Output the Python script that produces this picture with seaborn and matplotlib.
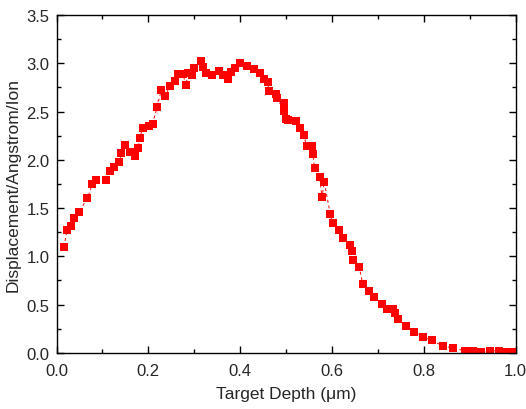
import matplotlib
matplotlib.use("Agg")
import matplotlib.pyplot as plt
import seaborn as sns
import pandas as pd
from matplotlib.ticker import MultipleLocator

depth = [0.016, 0.023, 0.032, 0.037, 0.049, 0.067, 0.078, 0.086, 0.108, 0.116,
         0.125, 0.137, 0.141, 0.150, 0.160, 0.171, 0.178, 0.181, 0.188, 0.201,
         0.209, 0.219, 0.219, 0.228, 0.237, 0.246, 0.257, 0.264, 0.275, 0.282,
         0.286, 0.296, 0.299, 0.314, 0.320, 0.325, 0.339, 0.353, 0.362, 0.374,
         0.379, 0.389, 0.399, 0.414, 0.430, 0.443, 0.452, 0.460, 0.462, 0.478,
         0.480, 0.495, 0.496, 0.499, 0.503, 0.521, 0.531, 0.538, 0.545, 0.557,
         0.558, 0.562, 0.573, 0.578, 0.583, 0.596, 0.601, 0.616, 0.623, 0.638,
         0.643, 0.646, 0.659, 0.667, 0.681, 0.691, 0.708, 0.719, 0.732, 0.737,
         0.744, 0.760, 0.778, 0.799, 0.817, 0.842, 0.863, 0.890, 0.908, 0.925,
         0.943, 0.963, 0.978, 0.996]
displacement = [1.10, 1.27, 1.31, 1.40, 1.46, 1.60, 1.75, 1.79, 1.79, 1.88,
                1.93, 1.98, 2.07, 2.15, 2.08, 2.04, 2.12, 2.23, 2.33, 2.35,
                2.37, 2.47, 2.63, 2.72, 2.66, 2.76, 2.82, 2.89, 2.89, 2.77,
                2.90, 2.88, 2.95, 3.02, 2.96, 2.90, 2.88, 2.92, 2.88, 2.84,
                2.91, 2.95, 3.00, 2.97, 2.94, 2.90, 2.84, 2.81, 2.71, 2.68,
                2.64, 2.51, 2.59, 2.42, 2.41, 2.40, 2.33, 2.26, 2.14, 2.14,
                2.06, 1.91, 1.82, 1.61, 1.77, 1.44, 1.34, 1.27, 1.19, 1.12,
                1.05, 0.96, 0.89, 0.71, 0.64, 0.58, 0.51, 0.45, 0.45, 0.41,
                0.35, 0.28, 0.22, 0.16, 0.13, 0.07, 0.05, 0.02, 0.02, 0.01,
                0.02, 0.02, 0.01, 0.01]

df = pd.DataFrame({"depth": depth, "disp": displacement})

sns.set_style("ticks")
plt.rcParams["font.family"] = ["Liberation Sans", "DejaVu Sans"]

fig = plt.figure(figsize=(5.26, 4.10), dpi=100)
ax = fig.add_axes([0.1075, 0.137, 0.873, 0.824])

sns.lineplot(data=df, x="depth", y="disp", ax=ax, sort=False, color="#ff0000",
             linestyle=(0, (3, 3)), linewidth=0.7, marker="s", markersize=5.5,
             markeredgewidth=0, markerfacecolor="#ff0000")

ax.set_xlim(0, 1.0)
ax.set_ylim(0, 3.5)
ax.xaxis.set_major_locator(MultipleLocator(0.2))
ax.xaxis.set_minor_locator(MultipleLocator(0.1))
ax.yaxis.set_major_locator(MultipleLocator(0.5))
ax.yaxis.set_minor_locator(MultipleLocator(0.25))
ax.set_xticklabels([f"{v:.1f}" for v in ax.get_xticks()])
ax.set_yticklabels([f"{v:.1f}" for v in ax.get_yticks()])

for s in ax.spines.values():
    s.set_visible(True)
    s.set_linewidth(1.0)
    s.set_color("black")

ax.tick_params(which="both", direction="in", top=True, right=True, color="black")
ax.tick_params(which="major", length=5, width=1.0, labelsize=12, pad=5)
ax.tick_params(axis="x", which="major", pad=7)
ax.tick_params(which="minor", length=3, width=1.0)

ax.set_xlabel("Target Depth (\u03bcm)", fontsize=12.5, labelpad=6)
ax.set_ylabel("Displacement/Angstrom/Ion", fontsize=12.5, labelpad=4)

fig.savefig("out.png", dpi=100)
